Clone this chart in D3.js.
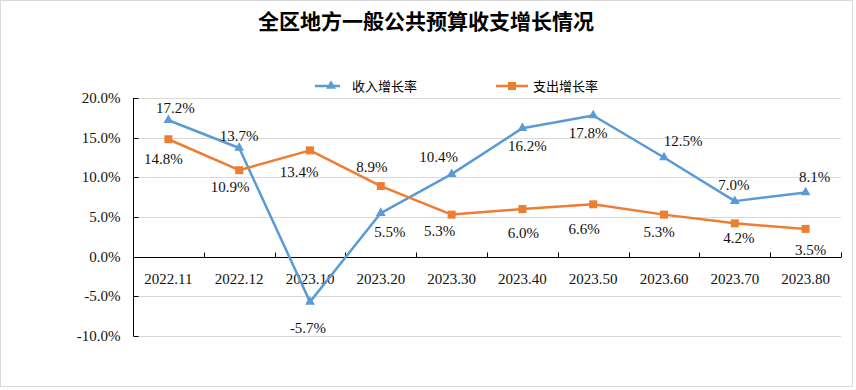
<!DOCTYPE html>
<html><head><meta charset="utf-8">
<script src="https://cdn.jsdelivr.net/npm/d3@7/dist/d3.min.js"></script>
<style>body{margin:0;background:#fff}svg{display:block}</style>
</head><body><svg id="c" width="856" height="390"></svg>
<script>
const title = "全区地方一般公共预算收支增长情况";
const categories = ["2022.11","2022.12","2023.10","2023.20","2023.30","2023.40","2023.50","2023.60","2023.70","2023.80"];
const seriesNames = ["收入增长率","支出增长率"];
const income = [17.2,13.7,-5.7,5.5,10.4,16.2,17.8,12.5,7.0,8.1];
const expend = [14.8,10.9,13.4,8.9,5.3,6.0,6.6,5.3,4.2,3.5];
const yTicks = [-10,-5,0,5,10,15,20];
// label offsets (layout, px)
const incomeLabelOffset = [[7,-12],[0,-12],[-2,26],[9,19],[-13,-17],[5,18],[-5,17],[19,-17],[-1,-16],[9,-16]];
const expendLabelOffset = [[-5,19],[-9,17],[-11,21],[-9,-19],[-12,16],[1,24],[-9,24],[-5,17],[4,14],[5,21]];

const colors = ["#5b9bd5","#ed7d31"];
const svg = d3.select("#c");
const L = 133, R = 841, T = 98, B = 336;
const numFont = "'Liberation Serif'";
const numSize = 15;

svg.append("rect").attr("x",0.5).attr("y",0.5).attr("width",852).attr("height",386)
  .attr("fill","#fff").attr("stroke","#d9d9d9");

svg.append("text").attr("x",426).attr("y",29).attr("text-anchor","middle")
  .attr("font-family","'Noto Sans CJK SC'").attr("font-weight","bold").attr("font-size",21)
  .attr("fill","#000").text(title);

const x = d3.scaleBand().domain(categories).range([L,R]).padding(0);
const y = d3.scaleLinear().domain([-10,20]).range([B,T]);
const cx = c => x(c) + x.bandwidth()/2;

// gridlines
svg.append("g").selectAll("line").data(yTicks.filter(t=>t!==0)).join("line")
  .attr("x1",L).attr("x2",R).attr("y1",d=>Math.round(y(d))+0.5).attr("y2",d=>Math.round(y(d))+0.5)
  .attr("stroke","#d9d9d9").attr("stroke-width",1);

// y axis
const ya = svg.append("g").attr("transform",`translate(${L+0.5},0)`)
  .call(d3.axisLeft(y).tickValues(yTicks).tickSize(-5).tickPadding(13).tickFormat(d=>d.toFixed(1)+"%"));
ya.selectAll("text").attr("font-family",numFont).attr("font-size",numSize).attr("fill","#111");
ya.selectAll("line").attr("stroke","#000");
ya.select(".domain").attr("stroke","#000").attr("d",`M0,${T}V${B}`);
ya.selectAll(".tick").attr("transform",d=>`translate(0,${Math.round(y(d))+0.5})`);

// x axis at zero
const y0 = Math.round(y(0))+0.5;
const xa = svg.append("g").attr("transform",`translate(0,${y0})`);
xa.append("line").attr("x1",L).attr("x2",R).attr("stroke","#000");
xa.selectAll("line.tk").data(d3.range(categories.length+1)).join("line").attr("class","tk")
  .attr("x1",i=>Math.round(L + i*x.bandwidth())+0.5).attr("x2",i=>Math.round(L + i*x.bandwidth())+0.5)
  .attr("y1",-5).attr("y2",0).attr("stroke","#000");
xa.selectAll("text").data(categories).join("text")
  .attr("x",d=>cx(d)).attr("y",26).attr("text-anchor","middle")
  .attr("font-family",numFont).attr("font-size",numSize).attr("fill","#111").text(d=>d);

// lines
const series = [income, expend];
const line = d3.line().x((d,i)=>cx(categories[i])).y(d=>y(d));
series.forEach((s,k)=>{
  svg.append("path").datum(s).attr("d",line).attr("fill","none")
    .attr("stroke",colors[k]).attr("stroke-width",2.5).attr("stroke-linejoin","round");
});
// markers
const tri = d3.symbol().type(d3.symbolTriangle).size(42);
const sq = d3.symbol().type(d3.symbolSquare).size(64);
svg.append("g").selectAll("path").data(income).join("path")
  .attr("transform",(d,i)=>`translate(${cx(categories[i])},${y(d)})`).attr("d",tri).attr("fill",colors[0]);
svg.append("g").selectAll("path").data(expend).join("path")
  .attr("transform",(d,i)=>`translate(${cx(categories[i])},${y(d)})`).attr("d",sq).attr("fill",colors[1]);

// data labels
[[income,incomeLabelOffset],[expend,expendLabelOffset]].forEach(([s,off])=>{
  svg.append("g").selectAll("text").data(s).join("text")
    .attr("x",(d,i)=>cx(categories[i])+off[i][0]).attr("y",(d,i)=>y(d)+off[i][1])
    .attr("dy","0.35em").attr("text-anchor","middle")
    .attr("font-family",numFont).attr("font-size",numSize).attr("fill","#111")
    .text(d=>d.toFixed(1)+"%");
});

// legend
const lg = svg.append("g");
const legendX = [315, 496];
seriesNames.forEach((n,k)=>{
  const g = lg.append("g").attr("transform",`translate(${legendX[k]},86)`);
  g.append("line").attr("x1",0).attr("x2",k?32:25).attr("stroke",colors[k]).attr("stroke-width",2.5);
  g.append("path").attr("transform",`translate(16,0)`).attr("d",k?sq:tri).attr("fill",colors[k]);
  g.append("text").attr("x",37).attr("y",0).attr("dy","0.35em")
    .attr("font-family","'Noto Sans CJK SC'").attr("font-size",13).attr("fill","#000").text(n);
});
</script></body></html>
